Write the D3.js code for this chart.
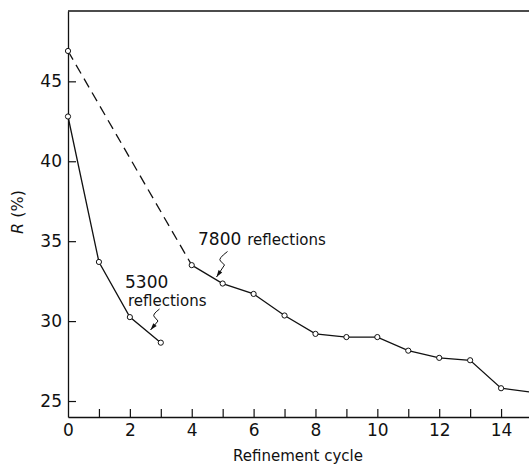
<!DOCTYPE html>
<html>
<head>
<meta charset="utf-8">
<script src="https://cdn.jsdelivr.net/npm/d3@7"></script>
<style>
  body { margin: 0; background: #fff; }
  svg { display: block; font-family: "DejaVu Sans", sans-serif; }
</style>
</head>
<body>
<script>
// R factor per refinement cycle
var cycles5300 = [0, 1, 2, 3];
var r5300 = [42.8, 33.7, 30.25, 28.65];

var cycles7800 = [0, 4, 5, 6, 7, 8, 9, 10, 11, 12, 13, 14, 15];
var r7800 = [46.9, 33.5, 32.35, 31.7, 30.35, 29.2, 29.0, 29.0, 28.15, 27.7, 27.55, 25.8, 25.55];

var xTicks = [0, 1, 2, 3, 4, 5, 6, 7, 8, 9, 10, 11, 12, 13, 14];
var yTicks = [25, 30, 35, 40, 45];

var width = 529, height = 466;
var ink = "#111";

var svg = d3.select("body").append("svg")
  .attr("width", width)
  .attr("height", height);

var x = d3.scaleLinear().domain([0, 15]).range([68, 532]);
var y = d3.scaleLinear().domain([24, 49.4]).range([417, 11]);

// frame: top border line
svg.append("line")
  .attr("x1", x(0)).attr("x2", width)
  .attr("y1", y(49.4)).attr("y2", y(49.4))
  .attr("stroke", ink).attr("stroke-width", 1.3);

var yAxis = d3.axisLeft(y)
  .tickValues(yTicks)
  .tickSizeInner(-8)
  .tickSizeOuter(0)
  .tickPadding(6);

var gy = svg.append("g")
  .attr("transform", "translate(" + x(0) + ",0)")
  .call(yAxis);

var xAxis = d3.axisBottom(x)
  .tickValues(xTicks)
  .tickFormat(function (d) { return d % 2 === 0 ? d : ""; })
  .tickSizeInner(-8)
  .tickSizeOuter(0)
  .tickPadding(7);

var gx = svg.append("g")
  .attr("transform", "translate(0," + y(24) + ")")
  .call(xAxis);

[gx, gy].forEach(function (g) {
  g.select(".domain").attr("stroke", ink).attr("stroke-width", 1.3);
  g.selectAll(".tick line").attr("stroke", ink).attr("stroke-width", 1.2);
  g.selectAll(".tick text")
    .attr("fill", ink)
    .style("font-size", "17px")
    .style("font-family", "DejaVu Sans, sans-serif");
});
gx.selectAll(".tick").filter(function (d) { return d === 0; }).select("line").remove();

// axis titles
svg.append("text")
  .attr("x", 298).attr("y", 461)
  .attr("text-anchor", "middle")
  .attr("fill", ink)
  .style("font-size", "15px")
  .text("Refinement cycle");

svg.append("text")
  .attr("transform", "translate(23,212) rotate(-90)")
  .attr("text-anchor", "middle")
  .attr("fill", ink)
  .style("font-size", "16px")
  .html('<tspan font-style="italic">R</tspan> (%)');

// series
var pts5300 = cycles5300.map(function (c, i) { return [c, r5300[i]]; });
var pts7800 = cycles7800.map(function (c, i) { return [c, r7800[i]]; });

var line = d3.line()
  .x(function (d) { return x(d[0]); })
  .y(function (d) { return y(d[1]); });

svg.append("path")
  .datum(pts5300)
  .attr("d", line)
  .attr("fill", "none").attr("stroke", ink).attr("stroke-width", 1.3);

// first leg of the 7800 series is dashed
svg.append("path")
  .datum(pts7800.slice(0, 2))
  .attr("d", line)
  .attr("fill", "none").attr("stroke", ink).attr("stroke-width", 1.3)
  .attr("stroke-dasharray", "10,6");

svg.append("path")
  .datum(pts7800.slice(1))
  .attr("d", line)
  .attr("fill", "none").attr("stroke", ink).attr("stroke-width", 1.3);

svg.append("g")
  .selectAll("circle")
  .data(pts5300.concat(pts7800.slice(0, -1)))
  .enter()
  .append("circle")
  .attr("cx", function (d) { return x(d[0]); })
  .attr("cy", function (d) { return y(d[1]); })
  .attr("r", 2.6)
  .attr("fill", "#fff")
  .attr("stroke", ink)
  .attr("stroke-width", 1);

// annotations
svg.append("text")
  .attr("x", 198).attr("y", 245)
  .attr("fill", ink)
  .html('<tspan style="font-size:17px">7800</tspan><tspan dx="6" style="font-size:15px">reflections</tspan>');

svg.append("text")
  .attr("x", 125).attr("y", 288)
  .attr("fill", ink)
  .style("font-size", "17px")
  .text("5300");

svg.append("text")
  .attr("x", 128).attr("y", 306)
  .attr("fill", ink)
  .style("font-size", "15px")
  .text("reflections");

// wavy leader lines with small filled arrow heads
function leader(p) {
  var path = d3.path();
  path.moveTo(p[0][0], p[0][1]);
  path.quadraticCurveTo(p[1][0] - 3, p[1][1] - 2, p[1][0], p[1][1]);
  path.lineTo(p[2][0], p[2][1]);
  path.lineTo(p[3][0], p[3][1]);
  svg.append("path")
    .attr("d", path.toString())
    .attr("fill", "none").attr("stroke", ink).attr("stroke-width", 1);
  var a = p[3], b = p[2];
  var ang = Math.atan2(a[1] - b[1], a[0] - b[0]);
  var len = 7, w = 2.2;
  var bx = a[0] - len * Math.cos(ang), by = a[1] - len * Math.sin(ang);
  svg.append("path")
    .attr("d", "M" + a[0] + "," + a[1] +
      "L" + (bx - w * Math.sin(ang)) + "," + (by + w * Math.cos(ang)) +
      "L" + (bx + w * Math.sin(ang)) + "," + (by - w * Math.cos(ang)) + "Z")
    .attr("fill", ink);
}

leader([[227.5, 251.5], [220.5, 261], [224.5, 265], [216.5, 277]]);
leader([[159.5, 309], [154.5, 317], [158, 321], [150.5, 330]]);
</script>
</body>
</html>
